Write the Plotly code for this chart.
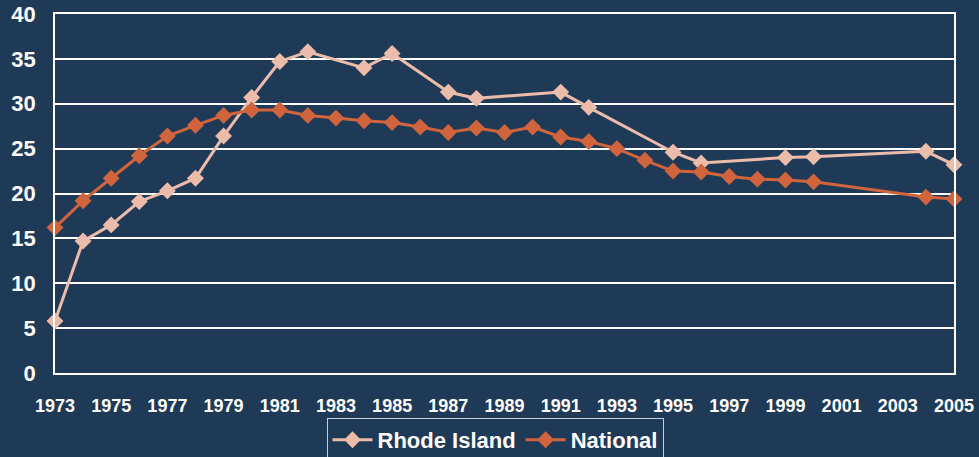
import plotly.graph_objects as go

# Rhode Island series (years reported)
ri_years = [1973, 1974, 1975, 1976, 1977, 1978, 1979, 1980, 1981, 1982,
            1984, 1985, 1987, 1988, 1991, 1992, 1995, 1996, 1999, 2000,
            2004, 2005]
ri_values = [5.8, 14.7, 16.5, 19.1, 20.3, 21.7, 26.4, 30.7, 34.7, 35.8,
             34.0, 35.6, 31.3, 30.6, 31.3, 29.6, 24.6, 23.4, 24.0, 24.1,
             24.7, 23.2]

# National series
nat_years = [1973, 1974, 1975, 1976, 1977, 1978, 1979, 1980, 1981, 1982,
             1983, 1984, 1985, 1986, 1987, 1988, 1989, 1990, 1991, 1992,
             1993, 1994, 1995, 1996, 1997, 1998, 1999, 2000, 2004, 2005]
nat_values = [16.2, 19.2, 21.7, 24.2, 26.4, 27.6, 28.7, 29.3, 29.3, 28.7,
              28.4, 28.1, 27.9, 27.4, 26.8, 27.3, 26.8, 27.4, 26.3, 25.8,
              25.0, 23.7, 22.5, 22.4, 21.9, 21.6, 21.5, 21.3, 19.6, 19.4]

x_ticks = list(range(1973, 2006, 2))
y_ticks = list(range(0, 41, 5))

BG = "#1F3A57"
RI_COLOR = "#ECBCAB"
NAT_COLOR = "#D0643D"
FONT = "Liberation Sans, Arial, sans-serif"

fig = go.Figure()
fig.add_trace(go.Scatter(
    x=ri_years, y=ri_values, name="Rhode Island", mode="lines+markers",
    line=dict(color=RI_COLOR, width=3),
    marker=dict(symbol="diamond", size=13, color=RI_COLOR),
    cliponaxis=False,
))
fig.add_trace(go.Scatter(
    x=nat_years, y=nat_values, name="National", mode="lines+markers",
    line=dict(color=NAT_COLOR, width=3),
    marker=dict(symbol="diamond", size=13, color=NAT_COLOR),
    cliponaxis=False,
))

fig.update_layout(
    width=979, height=457,
    paper_bgcolor=BG, plot_bgcolor=BG,
    margin=dict(l=55, r=25, t=14, b=84, autoexpand=False),
    font=dict(family=FONT, color="white"),
    showlegend=True,
    legend=dict(
        orientation="h", x=495 / 979, xanchor="center", xref="container",
        y=1 - 418 / 457, yanchor="top", yref="container",
        font=dict(size=22, color="white", family=FONT, weight="bold"),
        bordercolor="#C8CED6", borderwidth=1, bgcolor=BG,
        itemwidth=40, tracegroupgap=0,
    ),
)
fig.update_xaxes(
    range=[1973, 2005], tickvals=x_ticks, ticktext=[str(v) for v in x_ticks],
    showgrid=False, zeroline=False, automargin=False,
    showline=True, linecolor="white", linewidth=1.5, mirror=True,
    ticks="", ticklabelstandoff=16,
    tickfont=dict(size=18, color="white", family=FONT, weight="bold"),
)
fig.update_yaxes(
    range=[0, 40], tickvals=y_ticks,
    showgrid=True, gridcolor="white", gridwidth=1.5, zeroline=False,
    automargin=False,
    showline=True, linecolor="white", linewidth=1.5, mirror=True,
    ticks="", ticklabelstandoff=13,
    tickfont=dict(size=22, color="white", family=FONT, weight="bold"),
)

fig.write_html("out.html")
